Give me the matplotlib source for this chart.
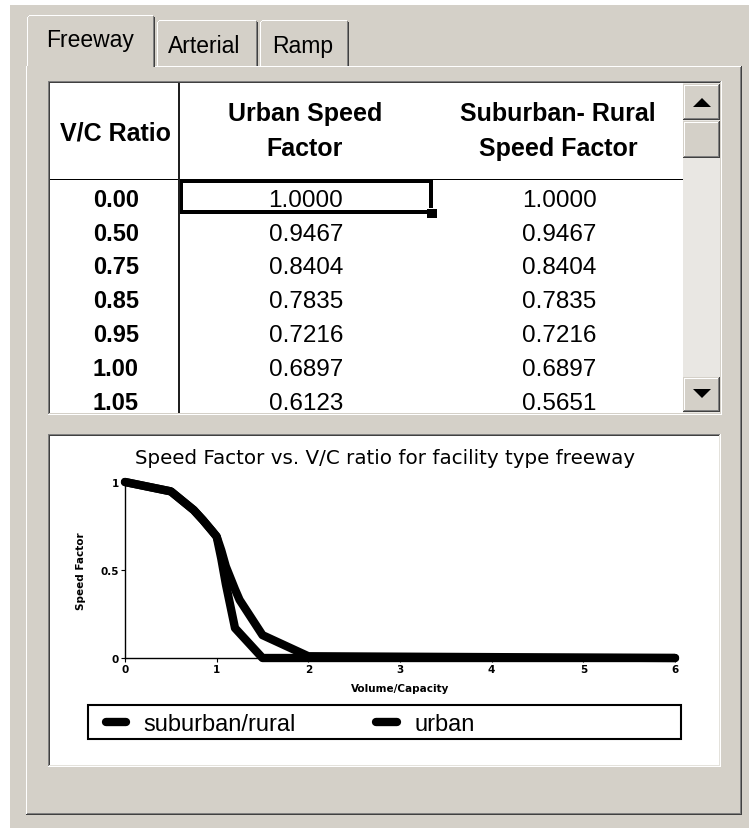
import matplotlib
matplotlib.use("Agg")
import matplotlib.pyplot as plt
from matplotlib.patches import Rectangle, Polygon

# ---------------- data ----------------
tabs = ["Freeway", "Arterial", "Ramp"]
header_vc = "V/C Ratio"
header_urban = ["Urban Speed", "Factor"]
header_suburban = ["Suburban- Rural", "Speed Factor"]
vc_ratio = [0.00, 0.50, 0.75, 0.85, 0.95, 1.00, 1.05]
urban_factor = [1.0000, 0.9467, 0.8404, 0.7835, 0.7216, 0.6897, 0.6123]
suburban_factor = [1.0000, 0.9467, 0.8404, 0.7835, 0.7216, 0.6897, 0.5651]
# full curves (rows beyond the visible table)
urban_curve_vc = [0.00, 0.50, 0.75, 0.85, 0.95, 1.00, 1.05, 1.10, 1.20, 1.25, 1.50, 1.75, 2.00, 6.00]
urban_curve_sf = [1.0000, 0.9467, 0.8404, 0.7835, 0.7216, 0.6897, 0.6123, 0.52, 0.39, 0.33, 0.13, 0.07, 0.01, 0.00]
suburban_curve_vc = [0.00, 0.50, 0.75, 0.85, 0.95, 1.00, 1.05, 1.10, 1.20, 1.50, 2.00, 6.00]
suburban_curve_sf = [1.0000, 0.9467, 0.8404, 0.7835, 0.7216, 0.6897, 0.5651, 0.42, 0.17, 0.00, 0.00, 0.00]
chart_title = "Speed Factor vs. V/C ratio for facility type freeway"
x_label = "Volume/Capacity"
y_label = "Speed Factor"
x_ticks = [0, 1, 2, 3, 4, 5, 6]
y_ticks = [0, 0.5, 1]
y_tick_labels = ["0", "0.5", "1"]
legend_labels = ["suburban/rural", "urban"]

# ---------------- figure / UI layer ----------------
W, H = 749, 829
FACE = "#D4D0C8"
DARK = "#404040"
SHADOW = "#808080"
fig = plt.figure(figsize=(W / 100, H / 100), dpi=100)
fig.patch.set_facecolor(FACE)
ui = fig.add_axes([0, 0, 1, 1])
ui.set_xlim(0, W)
ui.set_ylim(H, 0)
ui.axis("off")

UIFONT = ["Liberation Sans", "DejaVu Sans"]


def box(x0, y0, x1, y1, c, z=1):
    ui.add_patch(Rectangle((x0, y0), x1 - x0, y1 - y0, facecolor=c,
                           edgecolor="none", lw=0, antialiased=False, zorder=z))


def T(x, y, s, size, weight="normal", ha="center", va="baseline", family=UIFONT, **kw):
    return ui.text(x, y, s, fontsize=size, fontweight=weight, ha=ha, va=va,
                   family=family, color="black", **kw)


def button(x0, y0, x1, y1):
    box(x0, y0, x1, y1, FACE, 3)
    box(x0 + 1, y0 + 1, x1 - 2, y0 + 2, "white", 3)
    box(x0 + 1, y0 + 1, x0 + 2, y1 - 2, "white", 3)
    box(x0, y1 - 1, x1, y1, DARK, 3)
    box(x1 - 1, y0, x1, y1, DARK, 3)
    box(x0 + 1, y1 - 2, x1 - 1, y1 - 1, SHADOW, 3)
    box(x1 - 2, y0 + 1, x1 - 1, y1 - 1, SHADOW, 3)


# white screenshot margins
box(0, 0, W, 6, "white")
box(0, 0, 10, H, "white")

# tab page frame
box(26, 67, 742, 68, "white")
box(26, 67, 27, 816, "white")
box(741, 67, 742, 816, DARK)
box(740, 68, 741, 815, SHADOW)
box(26, 815, 742, 816, DARK)
box(27, 814, 741, 815, SHADOW)

# tabs
tab_geom = [(27, 155, 16), (157, 258, 21), (260, 349, 21)]
tab_text = [(90.5, 47), (204, 53), (303, 53)]
for (x0, x1, yt), (tx, ty), name in zip(tab_geom, tab_text, tabs):
    active = name == tabs[0]
    ybot = 68 if active else 67
    box(x0, yt + 2, x1, ybot, FACE, 2)
    box(x0 + 2, yt, x1 - 2, yt + 2, FACE, 2)
    box(x0 + 2, yt, x1 - 2, yt + 1, "white", 2)
    box(x0, yt + 2, x0 + 1, ybot, "white", 2)
    box(x0 + 1, yt + 1, x0 + 2, yt + 2, "white", 2)
    box(x1 - 1, yt + 2, x1, ybot, DARK, 2)
    box(x1 - 2, yt + 1, x1 - 1, ybot, SHADOW, 2)
    T(tx, ty, name, 16.5)
# active tab open bottom
box(27, 67, 153, 69, FACE, 2)

# ---------------- table ----------------
box(48, 82, 722, 83, SHADOW)
box(48, 82, 49, 416, SHADOW)
box(49, 83, 721, 84, DARK)
box(49, 83, 50, 415, DARK)
box(48, 415, 722, 416, "white")
box(721, 82, 722, 416, "white")
box(49, 414, 721, 415, FACE)
box(720, 83, 721, 415, FACE)
box(50, 84, 720, 414, "white")

# header separator & column divider
box(50, 180, 683, 181, "black", 2)
box(178, 84, 180, 414, "#202020", 2)

# headers
T(116, 140, header_vc, 18, "bold")
T(305, 121, header_urban[0], 18, "bold")
T(305, 156, header_urban[1], 18, "bold")
T(558, 121, header_suburban[0], 18, "bold")
T(558, 156, header_suburban[1], 18, "bold")

clip = Rectangle((50, 181), 633, 233, transform=ui.transData)
for i, (vc, u, s) in enumerate(zip(vc_ratio, urban_factor, suburban_factor)):
    yb = 206.7 + i * 33.8
    for x, txt, wt, sz in [(116, f"{vc:.2f}", "bold", 17),
                           (306, f"{u:.4f}", "normal", 17.5),
                           (559, f"{s:.4f}", "normal", 17.5)]:
        t = T(x, yb, txt, sz, wt)
        t.set_clip_path(clip)

# selected cell
box(180, 180, 433, 184, "black", 4)
box(180, 211, 428, 215, "black", 4)
box(180, 180, 183, 215, "black", 4)
box(429, 180, 433, 209, "black", 4)
box(427, 210, 437, 219, "black", 4)

# scrollbar
box(683, 84, 720, 414, "#E9E7E3", 2)
button(683, 85, 720, 121)
button(683, 122, 720, 159)
button(683, 378, 720, 413)
ui.add_patch(Polygon([(693, 108), (711, 108), (702, 99)], closed=True,
                     facecolor="black", edgecolor="none", zorder=5))
ui.add_patch(Polygon([(693, 390), (711, 390), (702, 399)], closed=True,
                     facecolor="black", edgecolor="none", zorder=5))

# ---------------- chart panel ----------------
box(48, 435, 721, 436, SHADOW)
box(48, 435, 49, 768, SHADOW)
box(49, 436, 720, 437, DARK)
box(49, 436, 50, 767, DARK)
box(48, 767, 721, 768, "white")
box(720, 435, 721, 768, "white")
box(49, 766, 720, 767, "#E4E2DC")
box(719, 436, 720, 767, "#E4E2DC")
box(50, 437, 719, 766, "white")

T(385, 464, chart_title, 14.3, family=["DejaVu Sans"])

# plot axes
ax_l, ax_r, ax_t, ax_b = 125, 675, 483, 659
ax = fig.add_axes([ax_l / W, 1 - ax_b / H, (ax_r - ax_l) / W, (ax_b - ax_t) / H])
ax.set_facecolor("none")
l_sub, = ax.plot(suburban_curve_vc, suburban_curve_sf, color="black", lw=6,
                 solid_joinstyle="round", solid_capstyle="round", clip_on=False)
l_urb, = ax.plot(urban_curve_vc, urban_curve_sf, color="black", lw=6,
                 solid_joinstyle="round", solid_capstyle="round", clip_on=False)
ax.set_xlim(0, 6)
ax.set_ylim(0, 1)
for sp in ["top", "right"]:
    ax.spines[sp].set_visible(False)
for sp in ["left", "bottom"]:
    ax.spines[sp].set_linewidth(1.0)
    ax.spines[sp].set_color("black")
ax.set_xticks(x_ticks)
ax.set_yticks(y_ticks)
ax.set_yticklabels(y_tick_labels)
ax.tick_params(direction="out", length=3, width=0.8, labelsize=7.5,
               pad=1.5, colors="black")
for lab in ax.get_xticklabels() + ax.get_yticklabels():
    lab.set_fontweight("bold")
    lab.set_family("DejaVu Sans")
ax.set_xlabel(x_label, fontsize=7.5, fontweight="bold", family="DejaVu Sans")
ax.xaxis.set_label_coords(0.5, -0.14)
ax.set_ylabel(y_label, fontsize=7.5, fontweight="bold", family="DejaVu Sans")
ax.yaxis.set_label_coords(-0.07, 0.5)

# legend
ui.add_patch(Rectangle((88, 706), 593, 34, fill=False, edgecolor="black",
                       lw=1.5, zorder=3))
leg = ax.legend([l_sub, l_urb], legend_labels, loc="center left",
                bbox_to_anchor=(106, 725), bbox_transform=ui.transData,
                frameon=False, ncol=2, prop={"family": UIFONT, "size": 17},
                handlelength=0.85, handletextpad=0.75, columnspacing=3.4,
                borderpad=0, borderaxespad=0)

fig.savefig("out.png", dpi=100, facecolor=FACE)
